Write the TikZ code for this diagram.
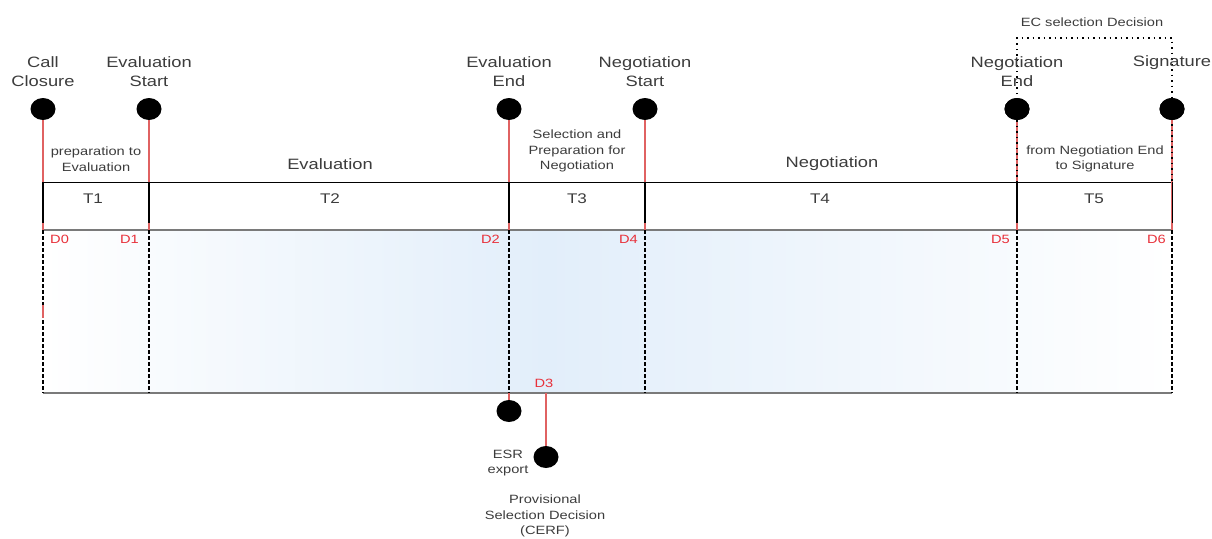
\documentclass[tikz,border=0pt]{standalone}
\usepackage{fontspec}
\setmainfont{Liberation Sans}[FakeStretch=1.22]
\usetikzlibrary{shapes.geometric}

\definecolor{txtgray}{HTML}{3C3C3C}
\definecolor{dred}{HTML}{E8303A}
\definecolor{lred}{HTML}{E06262}
\definecolor{bandblue}{HTML}{E2EEFA}
\definecolor{rowgray}{HTML}{7A7A7A}

\begin{document}
\begin{tikzpicture}[x=1pt, y=-1pt,
    milestone/.style={ellipse, fill=black, minimum width=25pt, minimum height=22pt, inner sep=0pt},
    bigtext/.style={text=txtgray, align=center, inner sep=0pt, font=\fontsize{15}{19}\selectfont},
    smalltext/.style={text=txtgray, align=center, inner sep=0pt, font=\fontsize{12}{15.5}\selectfont},
    tlabel/.style={text=txtgray, inner sep=0pt, font=\fontsize{14}{16}\selectfont},
    dlabel/.style={text=dred, inner sep=0pt, font=\fontsize{12}{14}\selectfont},
    redline/.style={lred, line width=1.3pt},
    rowline/.style={black, line width=1.8pt},
    splitline/.style={black, line width=1.8pt, dash pattern=on 4pt off 2pt},
    ecline/.style={black, line width=1.5pt, dash pattern=on 1.5pt off 4pt}]

    % Fix the size of the page
    \useasboundingbox (0,0) rectangle (1212,538);

    % x positions of the milestones
    \def\xA{43}
    \def\xB{149}
    \def\xC{509}
    \def\xD{645}
    \def\xE{1017}
    \def\xF{1172}
    % y positions of the rows
    \def\yDot{109}
    \def\yRow{182}
    \def\yBand{230}
    \def\yBot{393}

    % Top of the T row
    \coordinate (r0) at (\xA,\yRow);
    \coordinate (r1) at (\xB,\yRow);
    \coordinate (r2) at (\xC,\yRow);
    \coordinate (r3) at (\xD,\yRow);
    \coordinate (r4) at (\xE,\yRow);
    \coordinate (r5) at (\xF,\yRow);
    % Top of the D band
    \coordinate (b0) at (\xA,\yBand);
    \coordinate (b1) at (\xB,\yBand);
    \coordinate (b2) at (\xC,\yBand);
    \coordinate (b3) at (\xD,\yBand);
    \coordinate (b4) at (\xE,\yBand);
    \coordinate (b5) at (\xF,\yBand);
    % Bottom of the D band
    \coordinate (k0) at (\xA,\yBot);
    \coordinate (k1) at (\xB,\yBot);
    \coordinate (k2) at (\xC,\yBot);
    \coordinate (k3) at (546,\yBot);
    \coordinate (k4) at (\xD,\yBot);
    \coordinate (k5) at (\xE,\yBot);
    \coordinate (k6) at (\xF,\yBot);
    % Corners of the EC selection bracket
    \coordinate (ec1) at (\xE,38);
    \coordinate (ec2) at (\xF,38);

    % Shaded D band, bluest near D3
    \shade[left color=white, right color=bandblue] (b0) rectangle (k3);
    \shade[left color=bandblue, right color=white] (k3 |- b0) rectangle (k6);

    % Row borders
    \draw[black, line width=1pt] (r0) -- (r5);
    \draw[rowgray, line width=2pt] (b0) -- (b5);
    \draw[rowgray, line width=2pt] (k0) -- (k6);

    % Dashed splits in the D band
    \draw[splitline] (b0) -- (k0);
    \draw[splitline] (b1) -- (k1);
    \draw[splitline] (b2) -- (k2);
    \draw[splitline] (b3) -- (k4);
    \draw[splitline] (b4) -- (k5);
    \draw[splitline] (b5) -- (k6);
    \draw[redline] (\xA,305) -- (\xA,318);

    % Milestones on top
    \node[milestone] (m0) at (\xA,\yDot) {};
    \node[milestone] (m1) at (\xB,\yDot) {};
    \node[milestone] (m2) at (\xC,\yDot) {};
    \node[milestone] (m3) at (\xD,\yDot) {};
    \node[milestone] (m4) at (\xE,\yDot) {};
    \node[milestone] (m5) at (\xF,\yDot) {};

    % Red lines down to the band
    \draw[redline] (m0) -- (b0);
    \draw[redline] (m1) -- (b1);
    \draw[redline] (m2) -- (b2);
    \draw[redline] (m3) -- (b3);
    \draw[redline] (m4) -- (b4);
    \draw[redline] (m5) -- (b5);

    % Black splits in the T row
    \draw[rowline] (r0) -- ++(0,41);
    \draw[rowline] (r1) -- ++(0,41);
    \draw[rowline] (r2) -- ++(0,41);
    \draw[rowline] (r3) -- ++(0,41);
    \draw[rowline] (r4) -- ++(0,41);
    \draw[black, line width=1pt] (r5) -- ++(0,41);

    % EC selection bracket
    \draw[ecline] (r4) -- (ec1) -- (ec2) -- (r5);
    \node[milestone] at (m4) {};
    \node[milestone] at (m5) {};

    % Milestones below the band
    \node[milestone] (esr) at (\xC,411) {};
    \node[milestone] (cerf) at (546,457) {};
    \draw[redline] (k2) -- (esr);
    \draw[redline] (k3) -- (cerf);

    % Milestone labels
    \node[bigtext] (lcall) at (\xA,72) {Call\\Closure};
    \node[bigtext] (levs) at (\xB,72) {Evaluation\\Start};
    \node[bigtext] (leve) at (\xC,72) {Evaluation\\End};
    \node[bigtext] (lnegs) at (\xD,72) {Negotiation\\Start};
    \node[bigtext] (lnege) at (\xE,72) {Negotiation\\End};
    \node[bigtext] (lsig) at (\xF,63) {Signature};
    \node[smalltext] (lec) at (1092,22) {EC selection Decision};
    \node[smalltext] (lesr) at (508,463) {ESR\\export};
    \node[smalltext] (lcerf) at (545,516) {Provisional\\Selection Decision\\(CERF)};

    % Period labels
    \node[smalltext] (p1) at (96,159) {preparation to\\Evaluation};
    \node[bigtext] (p2) at (330,164) {Evaluation};
    \node[smalltext] (p3) at (577,151) {Selection and\\Preparation for\\Negotiation};
    \node[bigtext] (p4) at (832,164) {Negotiation};
    \node[smalltext] (p5) at (1095,159) {from Negotiation End\\to Signature};

    % T labels
    \node[tlabel] (t1) at (93,199) {T1};
    \node[tlabel] (t2) at (330,199) {T2};
    \node[tlabel] (t3) at (577,199) {T3};
    \node[tlabel] (t4) at (820,199) {T4};
    \node[tlabel] (t5) at (1094,199) {T5};

    % D labels
    \node[dlabel, anchor=west] (d0) at (50,239) {D0};
    \node[dlabel, anchor=east] (d1) at (139,239) {D1};
    \node[dlabel, anchor=east] (d2) at (500,239) {D2};
    \node[dlabel] (d3) at (544,383) {D3};
    \node[dlabel, anchor=east] (d4) at (638,239) {D4};
    \node[dlabel, anchor=east] (d5) at (1010,239) {D5};
    \node[dlabel, anchor=east] (d6) at (1166,239) {D6};

\end{tikzpicture}
\end{document}
